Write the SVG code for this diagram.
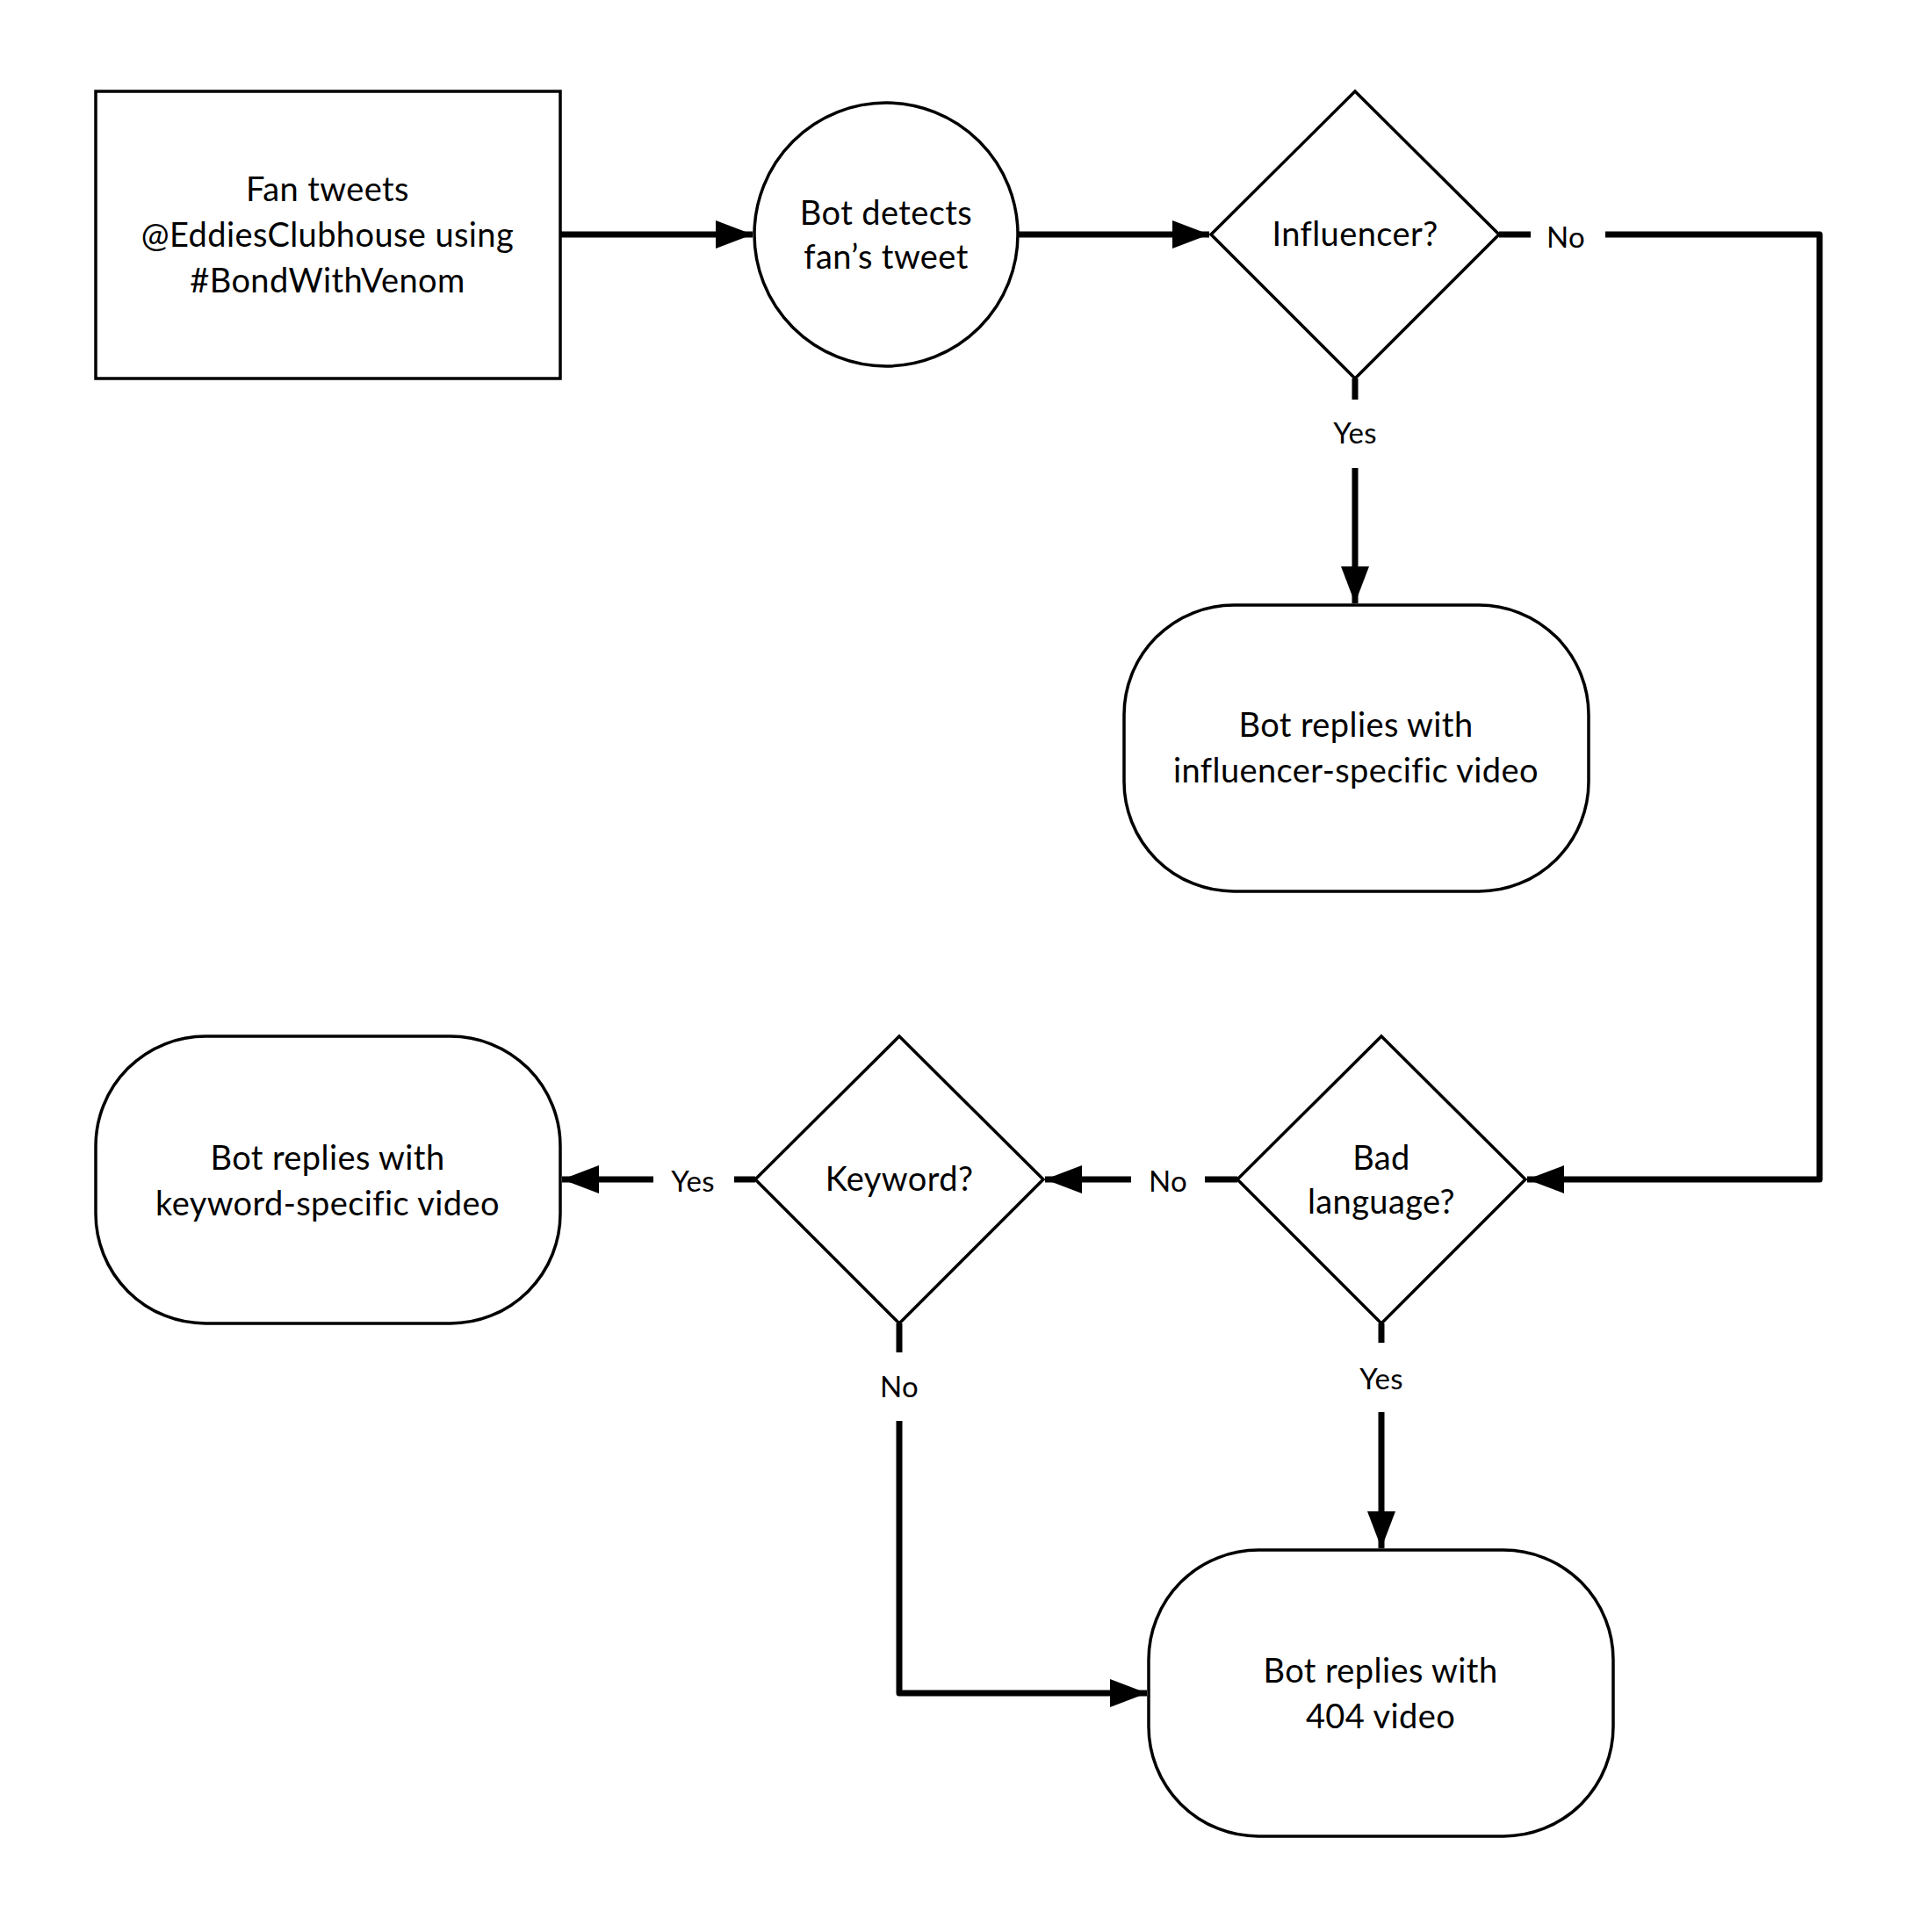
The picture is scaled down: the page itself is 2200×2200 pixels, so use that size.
<svg xmlns="http://www.w3.org/2000/svg" width="2200" height="2200" viewBox="0 0 2200 2200">
<style>
.node{fill:#fff;stroke:#000;stroke-width:3.5}
.t{font-family:Lato,"Liberation Sans",sans-serif;font-size:38px;letter-spacing:0.4px;fill:#000;text-anchor:middle}
.lbl{font-family:Lato,"Liberation Sans",sans-serif;font-size:33px;letter-spacing:0.3px;fill:#000;text-anchor:middle}
.c{fill:none;stroke:#000;stroke-width:7;stroke-linejoin:round}
</style>
<defs>
<marker id="ah" viewBox="0 0 42 32" refX="42" refY="16" markerWidth="42" markerHeight="32" markerUnits="userSpaceOnUse" orient="auto">
<path d="M0,0 L42,16 L0,32 z" fill="#000"/>
</marker>
</defs>
<rect width="2200" height="2200" fill="#fff"/>
<g id="connectors">
<path class="c" d="M638,267 L857,267" marker-end="url(#ah)"/>
<path class="c" d="M1159,267 L1377,267" marker-end="url(#ah)"/>
<path class="c" d="M1707,267 L1743,267"/>
<path class="c" d="M1828,267 L2072,267 L2072,1343 L1739,1343" marker-end="url(#ah)"/>
<path class="c" d="M1543,431 L1543,455"/>
<path class="c" d="M1543,533 L1543,687" marker-end="url(#ah)"/>
<path class="c" d="M1409,1343 L1372,1343"/>
<path class="c" d="M1288,1343 L1190,1343" marker-end="url(#ah)"/>
<path class="c" d="M1573,1507 L1573,1529"/>
<path class="c" d="M1573,1608 L1573,1763" marker-end="url(#ah)"/>
<path class="c" d="M860,1343 L836,1343"/>
<path class="c" d="M744,1343 L640,1343" marker-end="url(#ah)"/>
<path class="c" d="M1024,1507 L1024,1540"/>
<path class="c" d="M1024,1618 L1024,1928 L1306,1928" marker-end="url(#ah)"/>
<text class="lbl" x="1783" y="282">No</text>
<text class="lbl" x="1543" y="505">Yes</text>
<text class="lbl" x="1330" y="1357">No</text>
<text class="lbl" x="1573" y="1582">Yes</text>
<text class="lbl" x="789" y="1357">Yes</text>
<text class="lbl" x="1024" y="1591">No</text>
</g>
<g id="fan-tweets">
<rect class="node" x="109" y="104" width="529" height="327"/>
<text class="t" x="373" y="229">Fan tweets</text>
<text class="t" x="373" y="281">@EddiesClubhouse using</text>
<text class="t" x="373" y="333">#BondWithVenom</text>
</g>
<g id="bot-detects">
<circle class="node" cx="1009" cy="267" r="150"/>
<text class="t" x="1009" y="256">Bot detects</text>
<text class="t" x="1009" y="306">fan’s tweet</text>
</g>
<g id="influencer">
<polygon class="node" points="1543,104 1707,267 1543,431 1379,267"/>
<text class="t" x="1543" y="280">Influencer?</text>
</g>
<g id="influencer-video">
<rect class="node" x="1280" y="689" width="529" height="326" rx="125" ry="125"/>
<text class="t" x="1544" y="839">Bot replies with</text>
<text class="t" x="1544" y="891">influencer-specific video</text>
</g>
<g id="bad-language">
<polygon class="node" points="1573,1180 1737,1343 1573,1507 1409,1343"/>
<text class="t" x="1573" y="1332">Bad</text>
<text class="t" x="1573" y="1382">language?</text>
</g>
<g id="keyword">
<polygon class="node" points="1024,1180 1188,1343 1024,1507 860,1343"/>
<text class="t" x="1024" y="1356">Keyword?</text>
</g>
<g id="keyword-video">
<rect class="node" x="109" y="1180" width="529" height="327" rx="125" ry="125"/>
<text class="t" x="373" y="1332">Bot replies with</text>
<text class="t" x="373" y="1384">keyword-specific video</text>
</g>
<g id="video-404">
<rect class="node" x="1308" y="1765" width="529" height="326" rx="125" ry="125"/>
<text class="t" x="1572" y="1916">Bot replies with</text>
<text class="t" x="1572" y="1968">404 video</text>
</g>
</svg>
